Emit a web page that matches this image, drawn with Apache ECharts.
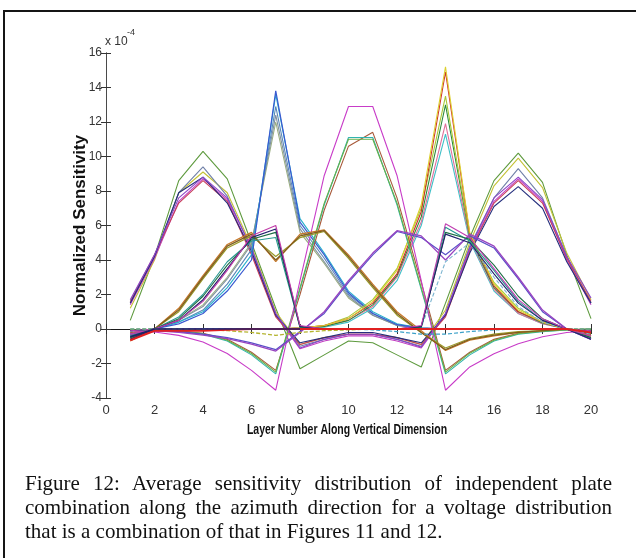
<!DOCTYPE html>
<html>
<head>
<meta charset="utf-8">
<script src="https://cdn.jsdelivr.net/npm/echarts@6/dist/echarts.min.js"></script>
<style>
  html, body { margin: 0; padding: 0; background: #fff; }
  #page { position: relative; width: 636px; height: 558px; overflow: hidden; background: #fff; }
  #frame { position: absolute; left: 3px; top: 10px; width: 700px; height: 600px;
           border-left: 2px solid #151515; border-top: 2px solid #151515; }
  #chart { position: absolute; left: 0; top: 0; width: 636px; height: 558px; }
  #caption { position: absolute; left: 25px; top: 471px; width: 587px;
             font-family: "Liberation Serif", "DejaVu Serif", serif; font-size: 21px;
             line-height: 24px; color: #111; }
  #caption div { text-align: justify; text-align-last: justify; white-space: nowrap; }
  #caption div.last { text-align-last: left; }
</style>
</head>
<body>
<div id="page">
  <div id="frame"></div>
  <div id="chart"></div>
  <div id="caption">
    <div>Figure 12: Average sensitivity distribution of independent plate</div>
    <div>combination along the azimuth direction for a voltage distribution</div>
    <div class="last">that is a combination of that in Figures 11 and 12.</div>
  </div>
</div>
<script>
// layer numbers along the vertical dimension
const layers = [1, 2, 3, 4, 5, 6, 7, 8, 9, 10, 11, 12, 13, 14, 15, 16, 17, 18, 19, 20];
const xTicks = [0, 2, 4, 6, 8, 10, 12, 14, 16, 18, 20];
const yTicks = [-4, -2, 0, 2, 4, 6, 8, 10, 12, 14, 16];

// curves peaking at layers 4 and 17 (x 1e-4)
const aGreen   = [0.5, 4.2, 8.6, 10.3, 8.7, 5.0, 1.2, -2.3, -1.5, -0.7, -0.8, -1.5, -2.2, 1.5, 5.3, 8.6, 10.2, 8.5, 4.3, 0.6];
const aYellow  = [1.2, 4.0, 7.9, 9.1, 7.9, 4.8, 1.0, -0.9, -0.5, -0.3, -0.3, -0.5, -0.9, 1.1, 5.0, 8.3, 9.9, 8.2, 4.4, 1.7];
const aSlate   = [1.5, 4.2, 7.9, 9.4, 7.7, 4.6, 0.9, -1.0, -0.6, -0.3, -0.3, -0.6, -1.0, 0.9, 4.8, 7.6, 9.3, 7.6, 4.2, 1.5];
const aMagenta = [1.4, 4.1, 7.4, 8.7, 7.5, 4.4, 0.8, -1.15, -0.7, -0.4, -0.4, -0.7, -1.1, 0.8, 4.6, 7.4, 8.7, 7.4, 4.0, 1.4];
const aRed     = [1.6, 4.3, 7.3, 8.6, 7.4, 4.3, 0.7, -0.9, -0.5, -0.3, -0.3, -0.5, -0.9, 0.7, 4.5, 7.3, 8.6, 7.3, 4.1, 1.6];
const aNavy    = [1.5, 4.2, 7.9, 8.8, 7.3, 4.5, 0.8, -0.8, -0.5, -0.2, -0.2, -0.5, -0.8, 0.8, 4.4, 7.1, 8.25, 7.0, 3.9, 1.5];
const aPurple  = [1.7, 4.3, 7.6, 8.8, 7.6, 4.7, 0.9, -1.1, -0.6, -0.3, -0.3, -0.6, -1.05, 0.9, 4.7, 7.6, 8.8, 7.5, 4.2, 1.8];

// sharp peak at layer 7
const bBlue  = [-0.5, 0.0, 0.3, 0.9, 2.2, 4.0, 13.8, 6.2, 4.3, 2.1, 0.9, 0.25, 0.05, 0.0, 0.0, 0.0, 0.0, 0.0, 0.0, -0.1];
const bCyan  = [-0.4, 0.0, 0.4, 1.0, 2.4, 4.3, 13.6, 6.4, 4.4, 2.2, 1.0, 0.3, 0.05, 0.0, 0.0, 0.0, 0.0, 0.0, 0.0, -0.1];
const bSteel = [-0.4, 0.0, 0.4, 1.1, 2.6, 4.6, 12.9, 6.0, 4.1, 2.0, 0.9, 0.25, 0.05, 0.0, 0.0, 0.0, 0.0, 0.0, 0.0, -0.1];
const bGray  = [-0.3, 0.0, 0.5, 1.3, 2.9, 4.9, 12.4, 5.8, 3.9, 1.9, 0.8, 0.2, 0.05, 0.0, 0.0, 0.0, 0.0, 0.0, 0.0, -0.1];
const bSage  = [-0.3, 0.0, 0.5, 1.4, 3.0, 5.0, 12.0, 5.6, 3.8, 1.8, 0.8, 0.2, 0.0, 0.0, 0.0, 0.0, 0.0, 0.0, 0.0, -0.1];

// sharp peak at layer 14
const cYellow = [-0.3, 0.0, 0.0, 0.0, 0.0, 0.0, 0.0, 0.05, 0.2, 0.6, 1.6, 3.4, 7.2, 15.2, 5.6, 2.6, 1.1, 0.4, 0.0, -0.4];
const cRed    = [-0.3, 0.0, 0.0, 0.0, 0.0, 0.0, 0.0, 0.05, 0.2, 0.6, 1.5, 3.2, 6.8, 14.9, 5.5, 2.5, 1.0, 0.4, 0.0, -0.4];
const cLime   = [-0.3, 0.0, 0.0, 0.0, 0.0, 0.0, 0.0, 0.05, 0.2, 0.7, 1.7, 3.5, 7.0, 13.5, 5.4, 2.7, 1.2, 0.4, 0.0, -0.3];
const cGreen  = [-0.3, 0.0, 0.0, 0.0, 0.0, 0.0, 0.0, 0.05, 0.15, 0.5, 1.4, 3.1, 6.5, 13.0, 5.3, 2.4, 1.0, 0.35, 0.0, -0.3];
const cPink   = [-0.2, 0.0, 0.0, 0.0, 0.0, 0.0, 0.0, 0.05, 0.15, 0.5, 1.3, 3.0, 6.2, 11.9, 5.2, 2.3, 0.9, 0.3, 0.0, -0.3];
const cCyan   = [-0.2, 0.0, 0.0, 0.0, 0.0, 0.0, 0.0, 0.0, 0.1, 0.4, 1.2, 2.8, 6.0, 11.3, 5.1, 2.2, 0.9, 0.3, 0.0, -0.2];

// plateau at layers 10-11, dips at 7 and 14
const dMagenta = [-0.1, -0.17, -0.37, -0.75, -1.42, -2.4, -3.55, 2.8, 8.9, 12.9, 12.9, 8.9, 2.8, -3.55, -2.2, -1.43, -0.85, -0.45, -0.2, -0.1];
const dGreen   = [-0.05, -0.05, -0.13, -0.27, -0.65, -1.42, -2.5, 2.4, 7.3, 11.0, 11.0, 7.3, 2.4, -2.5, -1.4, -0.65, -0.27, -0.13, -0.05, 0.0];
const dCyan    = [-0.1, -0.05, -0.15, -0.3, -0.7, -1.5, -2.6, 2.3, 7.2, 11.1, 11.1, 7.2, 2.3, -2.6, -1.5, -0.7, -0.3, -0.15, -0.05, 0.0];
const dBrown   = [-0.2, -0.05, -0.1, -0.25, -0.6, -1.35, -2.4, 2.0, 6.9, 10.6, 11.4, 7.6, 2.7, -2.4, -1.35, -0.6, -0.25, -0.1, -0.05, 0.0];

// double hump (layers 6 and 9) and its mirror (layers 12 and 15)
const eBrown  = [-0.6, 0.0, 1.1, 3.0, 4.8, 5.5, 4.0, 5.4, 5.7, 4.2, 2.5, 0.9, -0.2, -1.2, -0.6, -0.35, -0.2, -0.1, 0.0, -0.3];
const eOlive  = [-0.5, 0.0, 1.0, 2.9, 4.7, 5.4, 4.2, 5.3, 5.65, 4.1, 2.4, 0.8, -0.2, -1.1, -0.55, -0.3, -0.15, -0.1, 0.0, -0.3];
const eOrange = [-0.7, 0.0, 1.2, 3.1, 4.9, 5.6, 3.9, 5.5, 5.75, 4.3, 2.6, 1.0, -0.1, -1.25, -0.65, -0.4, -0.2, -0.1, 0.0, -0.4];
const eViolet = [-0.3, -0.1, -0.2, -0.35, -0.56, -0.88, -1.28, -0.2, 1.0, 2.8, 4.4, 5.7, 5.4, 4.0, 5.5, 4.8, 3.0, 1.1, 0.0, -0.6];
const eIndigo = [-0.3, -0.1, -0.15, -0.3, -0.5, -0.8, -1.2, -0.15, 0.9, 2.7, 4.3, 5.65, 5.3, 4.3, 5.4, 4.7, 2.9, 1.0, 0.0, -0.6];

// rise to layer 7 then drop to zero
const fDkGreen = [-0.5, 0.0, 0.6, 1.9, 3.7, 5.2, 5.6, 0.1, 0.0, 0.0, 0.0, 0.0, 0.0, 0.0, 0.0, 0.0, 0.0, 0.0, 0.0, -0.1];
const fNavy    = [-0.6, 0.0, 0.5, 1.7, 3.5, 5.3, 5.8, 0.15, 0.0, 0.0, 0.0, 0.0, 0.0, 0.0, 0.0, 0.0, 0.0, 0.0, 0.0, -0.1];
const fTeal    = [-0.4, 0.0, 0.7, 2.0, 3.9, 5.1, 5.3, 0.1, 0.0, 0.0, 0.0, 0.0, 0.0, 0.0, 0.0, 0.0, 0.0, 0.0, 0.0, -0.1];
const fMagenta = [-0.3, 0.0, 0.5, 1.6, 3.4, 5.4, 6.0, 0.2, 0.0, 0.0, 0.0, 0.0, 0.0, 0.0, 0.0, 0.0, 0.0, 0.0, 0.0, -0.1];

// zero until layer 13, jump at layer 14 then decay
const gDkGreen = [-0.1, 0.0, 0.0, 0.0, 0.0, 0.0, 0.0, 0.0, 0.0, 0.0, 0.0, 0.0, 0.1, 5.6, 5.2, 3.7, 1.9, 0.6, 0.0, -0.5];
const gTeal    = [-0.1, 0.0, 0.0, 0.0, 0.0, 0.0, 0.0, 0.0, 0.0, 0.0, 0.0, 0.0, 0.1, 5.9, 5.1, 3.4, 1.6, 0.5, 0.0, -0.5];
const gNavy    = [-0.1, 0.0, 0.0, 0.0, 0.0, 0.0, 0.0, 0.0, 0.0, 0.0, 0.0, 0.0, 0.15, 5.5, 5.0, 3.2, 1.5, 0.5, 0.0, -0.6];
const gMagenta = [-0.1, 0.0, 0.0, 0.0, 0.0, 0.0, 0.0, 0.0, 0.0, 0.0, 0.0, 0.0, 0.2, 6.1, 5.3, 3.5, 1.7, 0.6, 0.0, -0.4];
const gCyan    = [-0.1, 0.0, 0.0, 0.0, 0.0, 0.0, 0.0, 0.0, 0.0, 0.0, 0.0, 0.0, 0.1, 3.9, 5.0, 3.0, 1.3, 0.4, 0.0, -0.3];

// near-zero curves
const zOlive = [0.0, 0.0, 0.0, -0.05, -0.1, -0.2, -0.37, -0.2, -0.1, -0.05, 0.0, 0.0, 0.0, 0.0, 0.0, 0.0, 0.0, 0.0, 0.0, 0.0];
const zCyan  = [0.0, 0.0, 0.0, 0.0, 0.0, 0.0, 0.0, 0.0, 0.0, 0.0, -0.05, -0.15, -0.3, -0.3, -0.15, -0.05, 0.0, 0.0, 0.0, 0.0];
const zRed   = [-0.65, -0.1, -0.1, -0.1, -0.05, 0.0, 0.0, 0.0, 0.0, 0.0, 0.0, 0.0, 0.0, 0.0, 0.0, 0.0, 0.0, 0.0, 0.0, -0.2];
const zNavy  = [-0.45, 0.0, 0.0, 0.0, 0.0, 0.0, 0.0, 0.0, null, null, null, null, null, null, null, null, null, null, null, null];

// [data, colour, width, dashed]
const traces = [
  [aGreen, '#5e9a3e', 1.1], [aYellow, '#c4c236', 1.1], [aSlate, '#7080a8', 1.1],
  [aMagenta, '#c23ec2', 1.1], [aRed, '#c8405a', 1.1], [aNavy, '#26307e', 1.1], [aPurple, '#8a44c8', 1.1],
  [bSage, '#9aae80', 1.1], [bGray, '#8090a0', 1.1], [bSteel, '#5a88b8', 1.1], [bCyan, '#28b0cc', 1.1], [bBlue, '#3a5ad0', 1.2],
  [cCyan, '#40c0c8', 1.1], [cPink, '#e0709a', 1.1], [cGreen, '#2a8a3a', 1.1], [cLime, '#a8c838', 1.1],
  [cRed, '#d2302a', 1.1], [cYellow, '#dcd030', 1.1],
  [dBrown, '#a85a3a', 1.1], [dCyan, '#30b4b0', 1.1], [dGreen, '#68b048', 1.1], [dMagenta, '#c83cc8', 1.1],
  [eOlive, '#9a9a28', 1.2], [eOrange, '#c8782a', 1.2], [eBrown, '#7e5e1e', 1.3],
  [eIndigo, '#5a50c8', 1.2], [eViolet, '#9844c0', 1.3],
  [fTeal, '#289a94', 1.1], [fDkGreen, '#1e6e46', 1.1], [fNavy, '#22226e', 1.2], [fMagenta, '#c03ca8', 1.1],
  [gCyan, '#7ab4d0', 1.1, true], [gTeal, '#249690', 1.1], [gDkGreen, '#1e6e46', 1.1], [gNavy, '#22226e', 1.1], [gMagenta, '#c03cb0', 1.1],
  [zOlive, '#b4b430', 1.3, true], [zCyan, '#3aa0c8', 1.2, true],
  [zRed, '#e02020', 2.0], [zNavy, '#20206a', 1.6]
];

const sans = '"Liberation Sans", Arial, sans-serif';

const chart = echarts.init(document.getElementById('chart'), null, { renderer: 'canvas' });

const axisTickStyle = { show: true, inside: true, length: 5, lineStyle: { color: '#333', width: 1 } };

const option = {
  animation: false,
  backgroundColor: 'transparent',
  grid: { left: 106, right: 45, top: 53, bottom: 160, containLabel: false },
  xAxis: [
    {
      type: 'value', position: 'bottom', min: xTicks[0], max: xTicks[xTicks.length - 1], interval: 2,
      axisLine: { lineStyle: { color: '#4a4a4a', width: 1 } },
      axisTick: axisTickStyle,
      splitLine: { show: false },
      axisLabel: { color: '#333', fontFamily: sans, fontSize: 13, margin: 6 }
    },
    {
      type: 'value', position: 'top', min: xTicks[0], max: xTicks[xTicks.length - 1], interval: 2,
      axisLine: { show: true, lineStyle: { color: '#1a1a1a', width: 1 } },
      axisTick: axisTickStyle, axisLabel: { show: false }, splitLine: { show: false }
    }
  ],
  yAxis: [
    {
      type: 'value', position: 'left', min: yTicks[0], max: yTicks[yTicks.length - 1], interval: 2,
      axisLine: { show: true, lineStyle: { color: '#4a4a4a', width: 1 } },
      axisTick: axisTickStyle,
      splitLine: { show: false },
      axisLabel: { color: '#333', fontFamily: sans, fontSize: 12, margin: 4 },
      name: 'Normalized Sensitivity',
      nameLocation: 'middle', nameGap: 17, nameRotate: 90, nameMoveOverlap: false,
      nameTextStyle: { fontFamily: sans, fontWeight: 'bold', fontSize: 17, color: '#111' }
    },
    {
      type: 'value', position: 'right', min: yTicks[0], max: yTicks[yTicks.length - 1], interval: 2,
      axisLine: { show: true, lineStyle: { color: '#4a4a4a', width: 1 } },
      axisTick: axisTickStyle, axisLabel: { show: false }, splitLine: { show: false }
    }
  ],
  graphic: [
    { type: 'text', left: 105, top: 36, style: { text: 'x 10', font: '12px ' + sans, fill: '#333' } },
    { type: 'text', left: 127, top: 28, style: { text: '-4', font: '9px ' + sans, fill: '#333' } },
    // condensed axis title, as in the MATLAB export
    { type: 'text', x: 347, y: 430, scaleX: 0.7,
      style: { text: 'Layer Number Along Vertical Dimension', font: 'bold 15px ' + sans,
               fill: '#111', align: 'center', verticalAlign: 'middle' } }
  ],
  series: traces.map(([data, color, width, dashed]) => ({
    type: 'line',
    data: layers.map((x, i) => [x, data[i]]),
    showSymbol: false,
    symbol: 'none',
    connectNulls: false,
    silent: true,
    lineStyle: { color: color, width: width, type: dashed ? [4, 2] : 'solid' }
  }))
};

chart.setOption(option);
</script>
</body>
</html>
